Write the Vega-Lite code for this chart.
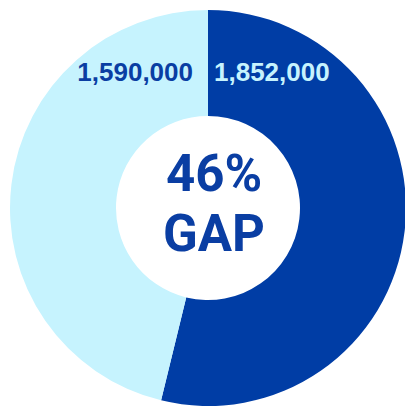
{
  "$schema": "https://vega.github.io/schema/vega-lite/v6.json",
  "width": 394,
  "height": 396,
  "padding": {"left": 11, "top": 10, "right": 0, "bottom": 0},
  "autosize": {"type": "none"},
  "background": "white",
  "config": {"view": {"stroke": null}},
  "data": {
    "values": [
      {"segment": "larger", "value": 1852000, "label": "1,852,000"},
      {"segment": "smaller", "value": 1590000, "label": "1,590,000"}
    ]
  },
  "layer": [
    {
      "mark": {"type": "arc", "innerRadius": 92, "outerRadius": 198},
      "encoding": {
        "theta": {"field": "value", "type": "quantitative", "stack": true},
        "order": {"field": "segment", "sort": "ascending"},
        "color": {
          "field": "segment",
          "type": "nominal",
          "scale": {"domain": ["larger", "smaller"], "range": ["#003DA5", "#C6F3FE"]},
          "legend": null
        }
      }
    },
    {
      "transform": [{"filter": "datum.segment === 'smaller'"}],
      "mark": {"type": "text", "align": "right", "baseline": "middle", "dx": -15, "dy": -135, "font": "Liberation Sans", "fontWeight": "bold", "fontSize": 26, "color": "#0A3EA3"},
      "encoding": {"text": {"field": "label"}}
    },
    {
      "transform": [{"filter": "datum.segment === 'larger'"}],
      "mark": {"type": "text", "align": "left", "baseline": "middle", "dx": 6, "dy": -135, "font": "Liberation Sans", "fontWeight": "bold", "fontSize": 26, "color": "#C6F3FE"},
      "encoding": {"text": {"field": "label"}}
    },
    {
      "data": {"values": [{"center": "46%\nGAP"}]},
      "mark": {"type": "text", "align": "center", "baseline": "middle", "dx": 6, "dy": -32, "lineBreak": "\n", "lineHeight": 60, "font": "Roboto", "fontWeight": "bold", "fontSize": 51, "color": "#0A3EA3"},
      "encoding": {"text": {"field": "center"}}
    }
  ]
}
